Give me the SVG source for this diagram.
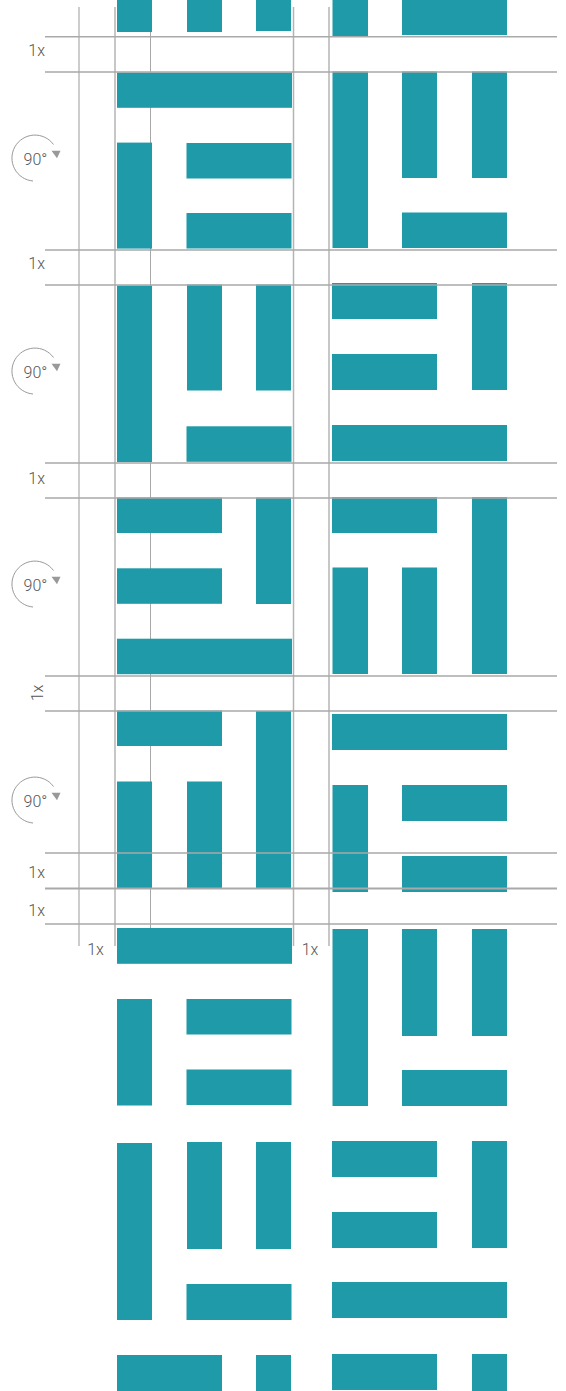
<svg xmlns="http://www.w3.org/2000/svg" xmlns:xlink="http://www.w3.org/1999/xlink" width="566" height="1391" viewBox="0 0 566 1391">
<style>
.b{fill:#1f9aa8}
.gv{stroke:#b4b4b4;stroke-width:1.5;fill:none}
.gv2{stroke:#cccccc;stroke-width:2;fill:none}
.gh{stroke:#a9a9a9;stroke-width:1.5;fill:none}
.t{font-family:Roboto,"Liberation Sans",sans-serif;font-weight:300;font-size:16px;fill:#555}
.arc{stroke:#999;stroke-width:1;fill:none}
.ah{fill:#999}
</style>
<defs>
<g id="rot">
<path class="arc" d="M 33 23 A 23 23 0 1 1 53.5 -13.5"/>
<polygon class="ah" points="51.5,-7.3 60.5,-7.3 57,0.3"/>
<text class="t" x="35.5" y="7" text-anchor="middle">90°</text>
</g>
</defs>
<rect width="566" height="1391" fill="#fff"/>
<g id="guides-vertical">
<line class="gv2" x1="79" y1="7" x2="79" y2="946"/>
<line class="gv" x1="115" y1="7" x2="115" y2="946"/>
<line class="gv" x1="150.5" y1="7" x2="150.5" y2="946" style="stroke-width:1;stroke:#a8a8a8"/>
<line class="gv" x1="293.5" y1="7" x2="293.5" y2="946"/>
<line class="gv" x1="329" y1="7" x2="329" y2="946"/>
</g>
<g id="left-column">
<g id="L0"><rect class="b" x="117" y="0" width="35" height="32"/><rect class="b" x="187" y="0" width="35" height="32"/><rect class="b" x="256" y="0" width="35" height="31"/></g>
<g id="L1"><rect class="b" x="117" y="72.5" width="175" height="35.3"/><rect class="b" x="117" y="142.6" width="35" height="106"/><rect class="b" x="186.5" y="143" width="105" height="35.5"/><rect class="b" x="186.5" y="213" width="105" height="35.5"/></g>
<g id="L2"><rect class="b" x="117" y="285.5" width="35" height="176.5"/><rect class="b" x="187" y="284.5" width="35" height="106"/><rect class="b" x="256" y="284.5" width="35" height="106"/><rect class="b" x="186.5" y="426.3" width="105" height="35.5"/></g>
<g id="L3"><rect class="b" x="117" y="497.5" width="105" height="35.5"/><rect class="b" x="256" y="497.5" width="35" height="106.5"/><rect class="b" x="117" y="568.3" width="105" height="35.5"/><rect class="b" x="117" y="638.7" width="175" height="35.5"/></g>
<g id="L4"><rect class="b" x="117" y="710.5" width="105" height="35.5"/><rect class="b" x="256" y="711" width="35" height="177"/><rect class="b" x="117" y="781.5" width="35" height="106.5"/><rect class="b" x="187" y="781.5" width="35" height="106.5"/></g>
<g id="L5"><rect class="b" x="117" y="928" width="175" height="35.8"/><rect class="b" x="117" y="999" width="35" height="106.5"/><rect class="b" x="186.5" y="999" width="105" height="35.5"/><rect class="b" x="186.5" y="1069.5" width="105" height="35.5"/></g>
<g id="L6"><rect class="b" x="117" y="1143" width="35" height="177"/><rect class="b" x="187" y="1142" width="35" height="107"/><rect class="b" x="256" y="1142" width="35" height="107"/><rect class="b" x="186.5" y="1284" width="105" height="36"/></g>
<g id="L7"><rect class="b" x="117" y="1355" width="105" height="36"/><rect class="b" x="256" y="1355" width="35" height="36"/></g>
</g>
<g id="right-column">
<g id="R0"><rect class="b" x="332.5" y="0" width="35.5" height="36"/><rect class="b" x="402" y="0" width="105" height="35"/></g>
<g id="R1"><rect class="b" x="332.5" y="71.5" width="35.5" height="176.5"/><rect class="b" x="402" y="71.5" width="35" height="106.5"/><rect class="b" x="472" y="71.5" width="35" height="106.5"/><rect class="b" x="402" y="212.5" width="105" height="35.5"/></g>
<g id="R2"><rect class="b" x="332" y="283" width="105" height="36"/><rect class="b" x="332" y="354" width="105" height="36"/><rect class="b" x="472" y="283" width="35" height="107"/><rect class="b" x="332" y="425" width="175" height="36"/></g>
<g id="R3"><rect class="b" x="332" y="497" width="105" height="36"/><rect class="b" x="472" y="497" width="35" height="177"/><rect class="b" x="332.5" y="567.5" width="35.5" height="106.5"/><rect class="b" x="402" y="567.5" width="35" height="106.5"/></g>
<g id="R4"><rect class="b" x="332" y="714" width="175" height="36"/><rect class="b" x="332.5" y="785" width="35.5" height="107"/><rect class="b" x="402" y="785" width="105" height="36"/><rect class="b" x="402" y="856" width="105" height="36"/></g>
<g id="R5"><rect class="b" x="332.5" y="929" width="35.5" height="177"/><rect class="b" x="402" y="929" width="35" height="107"/><rect class="b" x="472" y="929" width="35" height="107"/><rect class="b" x="402" y="1070" width="105" height="36"/></g>
<g id="R6"><rect class="b" x="332" y="1141" width="105" height="36"/><rect class="b" x="332" y="1212" width="105" height="36"/><rect class="b" x="472" y="1141" width="35" height="107"/><rect class="b" x="332" y="1282" width="175" height="36"/></g>
<g id="R7"><rect class="b" x="332" y="1354" width="105" height="36"/><rect class="b" x="472" y="1354" width="35" height="37"/></g>
</g>
<g id="guides-horizontal">
<line class="gh" x1="45" y1="36.7" x2="557" y2="36.7"/>
<line class="gh" x1="45" y1="72" x2="557" y2="72"/>
<line class="gh" x1="45" y1="250" x2="557" y2="250"/>
<line class="gh" x1="45" y1="285" x2="557" y2="285"/>
<line class="gh" x1="45" y1="463" x2="557" y2="463"/>
<line class="gh" x1="45" y1="498" x2="557" y2="498"/>
<line class="gh" x1="45" y1="676" x2="557" y2="676"/>
<line class="gh" x1="45" y1="711" x2="557" y2="711"/>
<line class="gh" x1="45" y1="853" x2="557" y2="853"/>
<line class="gh" x1="45" y1="888.5" x2="557" y2="888.5" style="stroke-width:2"/>
<line class="gh" x1="45" y1="924" x2="557" y2="924"/>
</g>
<g id="labels">
<text class="t" x="45" y="55.5" text-anchor="end">1x</text>
<text class="t" x="45" y="269" text-anchor="end">1x</text>
<text class="t" x="45" y="484" text-anchor="end">1x</text>
<text class="t" transform="translate(43,693) rotate(-90)" text-anchor="middle">1x</text>
<text class="t" x="45" y="877.5" text-anchor="end">1x</text>
<text class="t" x="45" y="915.5" text-anchor="end">1x</text>
<text class="t" x="95.5" y="954.5" text-anchor="middle">1x</text>
<text class="t" x="310" y="954.5" text-anchor="middle">1x</text>
</g>
<g id="rotation-icons">
<use xlink:href="#rot" x="0" y="158"/>
<use xlink:href="#rot" x="0" y="371"/>
<use xlink:href="#rot" x="0" y="584"/>
<use xlink:href="#rot" x="0" y="800"/>
</g>
</svg>
